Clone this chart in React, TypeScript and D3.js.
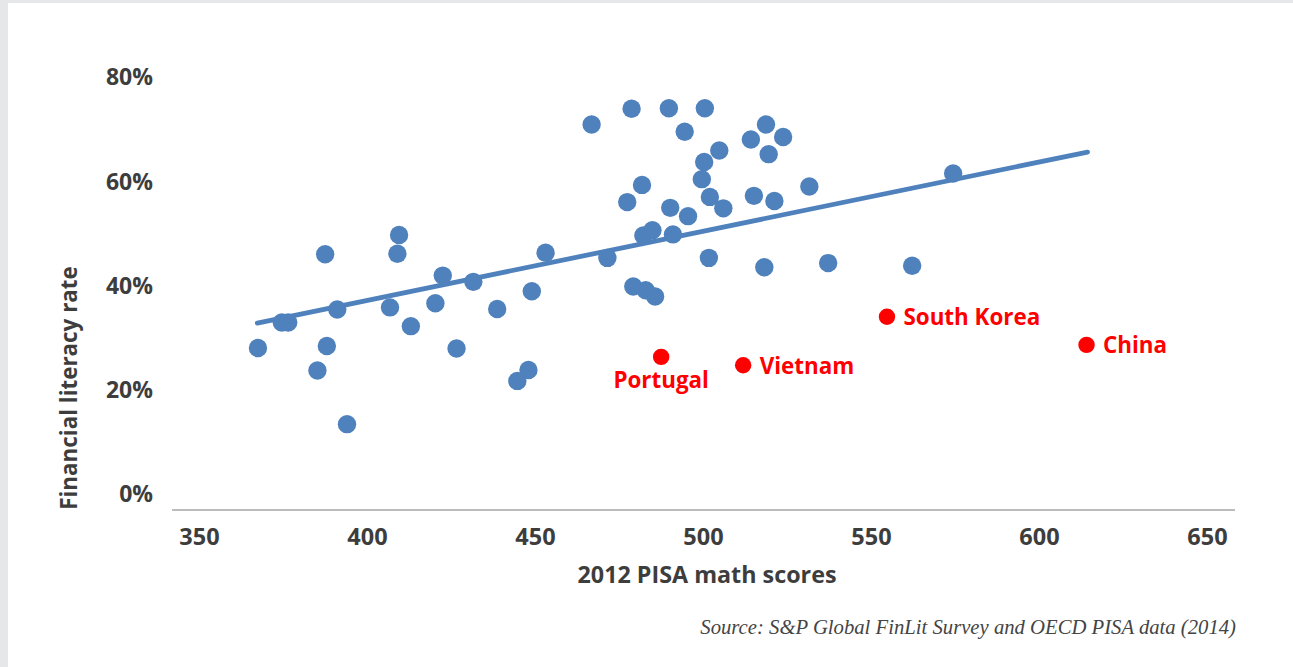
import React from "react";
import * as d3 from "d3";

// ---- data ----
const mathScores = [
  387.4, 409.4, 408.9, 422.4, 431.5, 391.0, 374.5, 376.4, 406.7, 420.2,
  412.9, 367.4, 387.9, 385.1, 426.5, 393.9, 438.6, 448.9, 447.9, 444.6,
  479.1, 482.8, 485.6, 466.7, 478.6, 489.7, 500.4, 494.4, 504.7, 500.2,
  499.5, 481.7, 477.3, 501.9, 505.9, 490.1, 495.4, 482.1, 484.8, 490.9,
  453.0, 471.4, 501.6, 518.6, 514.1, 523.7, 519.4, 531.5, 515.0, 521.1,
  574.3, 518.1, 537.1, 562.1,
];
const literacyRates = [
  46.0, 49.7, 46.1, 41.9, 40.7, 35.4, 32.9, 32.9, 35.8, 36.6,
  32.2, 28.0, 28.4, 23.7, 27.9, 13.4, 35.5, 38.9, 23.8, 21.7,
  39.8, 39.1, 37.9, 70.9, 73.9, 74.0, 74.0, 69.5, 65.9, 63.7,
  60.4, 59.3, 56.0, 57.0, 54.8, 54.9, 53.3, 49.6, 50.6, 49.8,
  46.3, 45.3, 45.3, 70.9, 68.0, 68.5, 65.2, 59.0, 57.2, 56.2,
  61.5, 43.5, 44.3, 43.8,
];
const highlightNames = ["Portugal", "Vietnam", "South Korea", "China"];
const highlightScores = [487.4, 511.8, 554.6, 614.0];
const highlightRates = [26.3, 24.7, 34.0, 28.6];
const trendScores = [367.2, 614.3];
const trendRates = [32.8, 65.6];
const xTicks = [350, 400, 450, 500, 550, 600, 650];
const yTicks = [0, 20, 40, 60, 80];

const W = 1293;
const H = 667;
const FONT = "'Open Sans', Roboto, sans-serif";
const TEXT = "#3d3d3d";
const BLUE = "#4f81bd";
const RED = "#ff0000";

export default function App() {
  const x = d3.scaleLinear().domain([350, 650]).range([199.5, 1207.5]);
  const y = d3.scaleLinear().domain([0, 80]).range([494, 77]);

  const trend = d3
    .line<number>()
    .x((d) => x(d))
    .y((_, i) => y(trendRates[i]));

  return (
    <svg
      width={W}
      height={H}
      style={{ position: "absolute", left: 0, top: 0, display: "block" }}
      fontFamily={FONT}
    >
      <rect x={0} y={0} width={W} height={H} fill="#e6e7e9" />
      <rect x={8} y={3} width={W - 8} height={H - 3} fill="#ffffff" />

      {/* y tick labels */}
      {yTicks.map((t) => (
        <text
          key={"y" + t}
          x={153}
          y={y(t)}
          dy="0.36em"
          textAnchor="end"
          fontSize={23}
          fontWeight={700}
          fill={TEXT}
        >
          {t + "%"}
        </text>
      ))}

      {/* x axis line */}
      <line x1={172} x2={1235} y1={510} y2={510} stroke="#a6a6a6" strokeWidth={1.5} />

      {/* x tick labels */}
      {xTicks.map((t) => (
        <text
          key={"x" + t}
          x={x(t)}
          y={545}
          textAnchor="middle"
          fontSize={23.5}
          fontWeight={700}
          fill={TEXT}
        >
          {t}
        </text>
      ))}

      {/* axis titles */}
      <text x={707} y={583} textAnchor="middle" fontSize={23.3} fontWeight={700} fill={TEXT}>
        2012 PISA math scores
      </text>
      <text
        transform={`translate(77,388) rotate(-90)`}
        textAnchor="middle"
        fontSize={22.4}
        fontWeight={700}
        fill={TEXT}
      >
        Financial literacy rate
      </text>

      {/* trend line */}
      <path
        d={trend(trendScores) || ""}
        fill="none"
        stroke={BLUE}
        strokeWidth={4.8}
        strokeLinecap="round"
      />

      {/* points */}
      {mathScores.map((s, i) => (
        <circle key={"p" + i} cx={x(s)} cy={y(literacyRates[i])} r={9.2} fill={BLUE} />
      ))}

      {/* highlighted countries */}
      {highlightNames.map((name, i) => {
        const cx = x(highlightScores[i]);
        const cy = y(highlightRates[i]);
        const below = name === "Portugal";
        return (
          <g key={name}>
            <circle cx={cx} cy={cy} r={8.2} fill={RED} />
            <text
              x={below ? cx : cx + 16.5}
              y={below ? cy + 31 : cy + 8.5}
              textAnchor={below ? "middle" : "start"}
              fontSize={22.4}
              fontWeight={700}
              fill={RED}
            >
              {name}
            </text>
          </g>
        );
      })}

      {/* source */}
      <text
        x={1236}
        y={634}
        textAnchor="end"
        fontSize={20.7}
        fontStyle="italic"
        fontFamily="'Liberation Serif', serif"
        fill="#444444"
      >
        Source: S&amp;P Global FinLit Survey and OECD PISA data (2014)
      </text>
    </svg>
  );
}
